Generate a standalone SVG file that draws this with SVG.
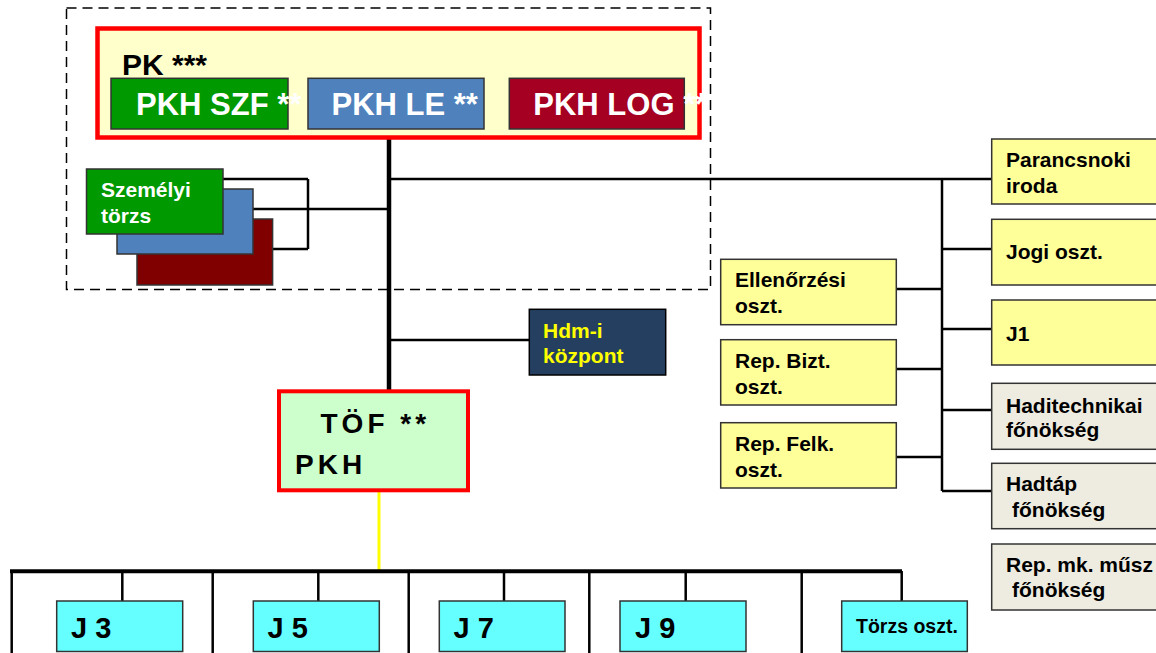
<svg xmlns="http://www.w3.org/2000/svg" width="1156" height="653" viewBox="0 0 1156 653">
<style>
text{font-family:"Liberation Sans",Arial,sans-serif;font-weight:bold}
.box{stroke:#333;stroke-width:1.5}
.yel{fill:#FFFF99}
.gry{fill:#EEECE1}
.cyan{fill:#66FFFF}
.t21{font-size:21px;fill:#000}
.w31{font-size:31px;fill:#fff}
.j{font-size:29px;fill:#000}
.ln{stroke:#000;stroke-width:2.5;fill:none}
</style>
<rect width="1156" height="653" fill="#fff"/>
<rect x="66.5" y="8" width="644" height="281.5" fill="none" stroke="#000" stroke-width="1.5" stroke-dasharray="10,6"/>

<g id="connectors">
<line x1="389" y1="139" x2="389" y2="390" stroke="#000" stroke-width="4.5"/>
<line class="ln" x1="389" y1="179" x2="992" y2="179"/>
<line class="ln" x1="221" y1="179" x2="308" y2="179"/>
<line class="ln" x1="308" y1="179" x2="308" y2="249"/>
<line class="ln" x1="272" y1="249" x2="308" y2="249"/>
<line class="ln" x1="252" y1="209" x2="389" y2="209"/>
<line class="ln" x1="389" y1="340" x2="529" y2="340"/>
<line class="ln" x1="942" y1="179" x2="942" y2="491"/>
<line class="ln" x1="942" y1="249" x2="992" y2="249"/>
<line class="ln" x1="942" y1="329" x2="992" y2="329"/>
<line class="ln" x1="942" y1="410" x2="992" y2="410"/>
<line class="ln" x1="942" y1="491" x2="992" y2="491"/>
<line class="ln" x1="892" y1="289" x2="942" y2="289"/>
<line class="ln" x1="897" y1="369" x2="942" y2="369"/>
<line class="ln" x1="896" y1="457" x2="941" y2="457"/>
<line x1="379" y1="492" x2="379" y2="570" stroke="#FFFF00" stroke-width="3"/>
<line x1="10" y1="571.3" x2="902" y2="571.3" stroke="#000" stroke-width="4"/>
<line class="ln" x1="11.7" y1="571" x2="11.7" y2="653"/>
<line class="ln" x1="212.7" y1="571" x2="212.7" y2="653"/>
<line class="ln" x1="408.7" y1="571" x2="408.7" y2="653"/>
<line class="ln" x1="589.3" y1="571" x2="589.3" y2="653"/>
<line class="ln" x1="801.7" y1="571" x2="801.7" y2="653"/>
<line class="ln" x1="122.3" y1="571" x2="122.3" y2="601"/>
<line class="ln" x1="318.3" y1="571" x2="318.3" y2="601"/>
<line class="ln" x1="504" y1="571" x2="504" y2="601"/>
<line class="ln" x1="685.7" y1="571" x2="685.7" y2="601"/>
<line class="ln" x1="901.7" y1="571" x2="901.7" y2="601"/>
</g>

<g id="pk">
<rect x="97.5" y="28.5" width="602" height="109" fill="#FFFFCC" stroke="#FF0000" stroke-width="4.5"/>
<text x="122" y="75" font-size="30" fill="#000">PK ***</text>
</g>
<g id="pkh-szf">
<rect class="box" x="111" y="78.3" width="177" height="50.7" fill="#009900"/>
<text class="w31" x="136" y="115">PKH SZF **</text>
</g>
<g id="pkh-le">
<rect class="box" x="308" y="78.3" width="176" height="50.7" fill="#4F81BD"/>
<text class="w31" x="331.5" y="115">PKH LE **</text>
</g>
<g id="pkh-log">
<rect class="box" x="509.3" y="78.3" width="175" height="50.7" fill="#A50021"/>
<text class="w31" x="533.3" y="115">PKH LOG **</text>
</g>

<g id="szemelyi-torzs">
<rect class="box" x="137" y="219" width="135.6" height="66" fill="#800000"/>
<rect class="box" x="117" y="189" width="136" height="65" fill="#4F81BD"/>
<rect class="box" x="86.5" y="169" width="136.5" height="65" fill="#009900"/>
<text x="101" y="197" font-size="21" fill="#fff">Személyi</text>
<text x="101" y="223" font-size="21" fill="#fff">törzs</text>
</g>

<g id="hdm">
<rect x="529.3" y="309.3" width="136.4" height="65.7" fill="#243F60" stroke="#000" stroke-width="1.5"/>
<text x="543" y="338" font-size="21" fill="#FFFF00">Hdm-i</text>
<text x="543" y="362.7" font-size="21" fill="#FFFF00">központ</text>
</g>

<g id="tof">
<rect x="279" y="391.3" width="189" height="99" fill="#CCFFCC" stroke="#FF0000" stroke-width="4"/>
<text x="320.5" y="432.7" font-size="28" letter-spacing="4" fill="#000">TÖF **</text>
<text x="295" y="474.3" font-size="28" letter-spacing="4" fill="#000">PKH</text>
</g>

<g id="parancsnoki">
<rect class="box yel" x="991.7" y="139" width="180" height="65"/>
<text class="t21" x="1006" y="166.7">Parancsnoki</text>
<text class="t21" x="1006" y="192.7">iroda</text>
</g>
<g id="jogi">
<rect class="box yel" x="991.7" y="219.3" width="180" height="65.7"/>
<text class="t21" x="1006" y="259">Jogi oszt.</text>
</g>
<g id="j1">
<rect class="box yel" x="991.7" y="300" width="180" height="65"/>
<text class="t21" x="1006" y="340.7">J1</text>
</g>
<g id="haditechnikai">
<rect class="box gry" x="991.7" y="383.3" width="180" height="66"/>
<text class="t21" x="1006" y="412.7">Haditechnikai</text>
<text class="t21" x="1006" y="436.7">főnökség</text>
</g>
<g id="hadtap">
<rect class="box gry" x="991.7" y="463.3" width="180" height="65.4"/>
<text class="t21" x="1006" y="491">Hadtáp</text>
<text class="t21" x="1012" y="516.7">főnökség</text>
</g>
<g id="rep-mk">
<rect class="box gry" x="991.7" y="544" width="180" height="66"/>
<text class="t21" x="1006" y="571.7">Rep. mk. műsz</text>
<text class="t21" x="1012" y="596.7">főnökség</text>
</g>

<g id="ellenorzesi">
<rect class="box yel" x="720.7" y="259.3" width="175.6" height="65.4"/>
<text class="t21" x="735" y="287">Ellenőrzési</text>
<text class="t21" x="735" y="312.7">oszt.</text>
</g>
<g id="rep-bizt">
<rect class="box yel" x="720.7" y="339.7" width="175.6" height="65.3"/>
<text class="t21" x="735" y="368">Rep. Bizt.</text>
<text class="t21" x="735" y="394">oszt.</text>
</g>
<g id="rep-felk">
<rect class="box yel" x="720.7" y="422.7" width="175.6" height="65.3"/>
<text class="t21" x="735" y="450.7">Rep. Felk.</text>
<text class="t21" x="735" y="476.7">oszt.</text>
</g>

<g id="j3">
<rect class="box cyan" x="56.7" y="601" width="126" height="50.5"/>
<text class="j" x="71" y="638.3">J 3</text>
</g>
<g id="j5">
<rect class="box cyan" x="253.3" y="601" width="126" height="50.5"/>
<text class="j" x="267.5" y="638.3">J 5</text>
</g>
<g id="j7">
<rect class="box cyan" x="439.3" y="601" width="125.7" height="50.5"/>
<text class="j" x="453.5" y="638.3">J 7</text>
</g>
<g id="j9">
<rect class="box cyan" x="620" y="601" width="126" height="50.5"/>
<text class="j" x="635" y="638.3">J 9</text>
</g>
<g id="torzs-oszt">
<rect class="box cyan" x="841.7" y="601" width="125.6" height="50.5"/>
<text x="856" y="633.3" font-size="19.5" fill="#000">Törzs oszt.</text>
</g>
</svg>
